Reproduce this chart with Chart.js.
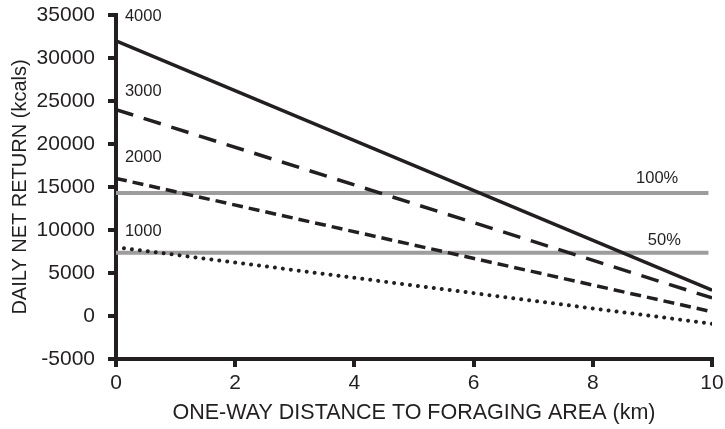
<!DOCTYPE html>
<html>
<head>
<meta charset="utf-8">
<script src="https://cdn.jsdelivr.net/npm/chart.js@4.4.1/dist/chart.umd.min.js"></script>
<style>
  html, body { margin: 0; padding: 0; background: #ffffff; }
  #wrap { width: 725px; height: 429px; }
</style>
</head>
<body>
<div id="wrap"><canvas id="chart"></canvas></div>
<script>
// One-way distance to the foraging area (km)
const distances = [0, 10];

// Daily net return (kcals) for each daily intake level
const intakeLabels = ['4000', '3000', '2000', '1000'];
const return4000 = [32000, 3000];
const return3000 = [24000, 2100];
const return2000 = [16000, 500];
const return1000 = [8000, -900];

// Reference levels
const levelLabels = ['100%', '50%'];
const levelValues = [14300, 7350];
const levelSpan = [0, 9.94];

// Axis ticks
const xTicks = [0, 2, 4, 6, 8, 10];
const yTicks = [-5000, 0, 5000, 10000, 15000, 20000, 25000, 30000, 35000];

// Text positions for in-plot labels (data units)
const intakeLabelPos = [[0.15, 34800], [0.15, 26100], [0.15, 18450], [0.15, 9800]];
const levelLabelPos = [[9.08, 16000], [9.2, 8800]];

const ink = '#231f20';
const grey = '#9d9d9d';
const font = "'Liberation Sans', Arial, sans-serif";

const pts = (xs, ys) => xs.map((x, i) => ({ x: x, y: ys[i] }));

const lineStyles = [
  { dash: [], cap: 'butt', width: 3.5 },
  { dash: [18, 11], cap: 'butt', width: 3.5 },
  { dash: [11, 6], cap: 'butt', width: 3.5 },
  { dash: [0.01, 8], cap: 'round', width: 4 }
];
const seriesValues = [return4000, return3000, return2000, return1000];

const datasets = seriesValues.map((vals, i) => ({
  label: intakeLabels[i],
  data: pts(distances, vals),
  borderColor: ink,
  borderWidth: lineStyles[i].width,
  borderDash: lineStyles[i].dash,
  borderCapStyle: lineStyles[i].cap,
  pointRadius: 0,
  tension: 0,
  fill: false
}));

levelValues.forEach((v, i) => {
  datasets.push({
    label: levelLabels[i],
    data: pts(levelSpan, [v, v]),
    borderColor: grey,
    borderWidth: 4,
    pointRadius: 0,
    fill: false
  });
});

const annotate = {
  id: 'annotate',
  afterDatasetsDraw(chart) {
    const { ctx, scales } = chart;
    ctx.save();
    ctx.fillStyle = ink;
    ctx.textBaseline = 'middle';
    ctx.font = '16.5px ' + font;
    ctx.textAlign = 'left';
    intakeLabels.forEach((t, i) => {
      const p = intakeLabelPos[i];
      ctx.fillText(t, scales.x.getPixelForValue(p[0]), scales.y.getPixelForValue(p[1]));
    });
    ctx.textAlign = 'center';
    levelLabels.forEach((t, i) => {
      const p = levelLabelPos[i];
      ctx.fillText(t, scales.x.getPixelForValue(p[0]), scales.y.getPixelForValue(p[1]));
    });
    ctx.restore();
  }
};

new Chart(document.getElementById('chart'), {
  type: 'line',
  data: { datasets: datasets },
  options: {
    responsive: true,
    maintainAspectRatio: false,
    animation: false,
    layout: { padding: { top: 15, right: 13, left: 0, bottom: 0 } },
    plugins: { legend: { display: false }, tooltip: { enabled: false } },
    scales: {
      x: {
        type: 'linear',
        min: 0,
        max: 10,
        afterBuildTicks(scale) { scale.ticks = xTicks.map(v => ({ value: v })); },
        afterFit(scale) {
          scale.height = 70;
          scale.paddingLeft = 0;
          scale.paddingRight = 0;
        },
        ticks: {
          color: ink,
          font: { family: font, size: 21 },
          padding: 4,
          maxRotation: 0,
          callback: v => String(v)
        },
        grid: { drawOnChartArea: false, drawTicks: true, tickLength: 8, lineWidth: 4, color: ink, tickColor: ink, tickWidth: 4 },
        border: { display: true, width: 4, color: ink },
        title: {
          display: true,
          text: 'ONE-WAY DISTANCE TO FORAGING AREA (km)',
          color: ink,
          font: { family: font, size: 21.5 },
          padding: { top: 0, bottom: 3 }
        }
      },
      y: {
        type: 'linear',
        min: -5000,
        max: 35000,
        afterBuildTicks(scale) { scale.ticks = yTicks.map(v => ({ value: v })); },
        afterFit(scale) {
          scale.width = 116;
          scale.paddingTop = 0;
          scale.paddingBottom = 0;
        },
        ticks: {
          color: ink,
          font: { family: font, size: 21 },
          padding: 13,
          callback: v => String(v)
        },
        grid: { drawOnChartArea: false, drawTicks: true, tickLength: 8, lineWidth: 4, color: ink, tickColor: ink, tickWidth: 4 },
        border: { display: true, width: 4, color: ink },
        title: {
          display: true,
          text: 'DAILY NET RETURN (kcals)',
          color: ink,
          font: { family: font, size: 20 },
          padding: { top: 8, bottom: 0 }
        }
      }
    }
  },
  plugins: [annotate]
});
</script>
</body>
</html>
